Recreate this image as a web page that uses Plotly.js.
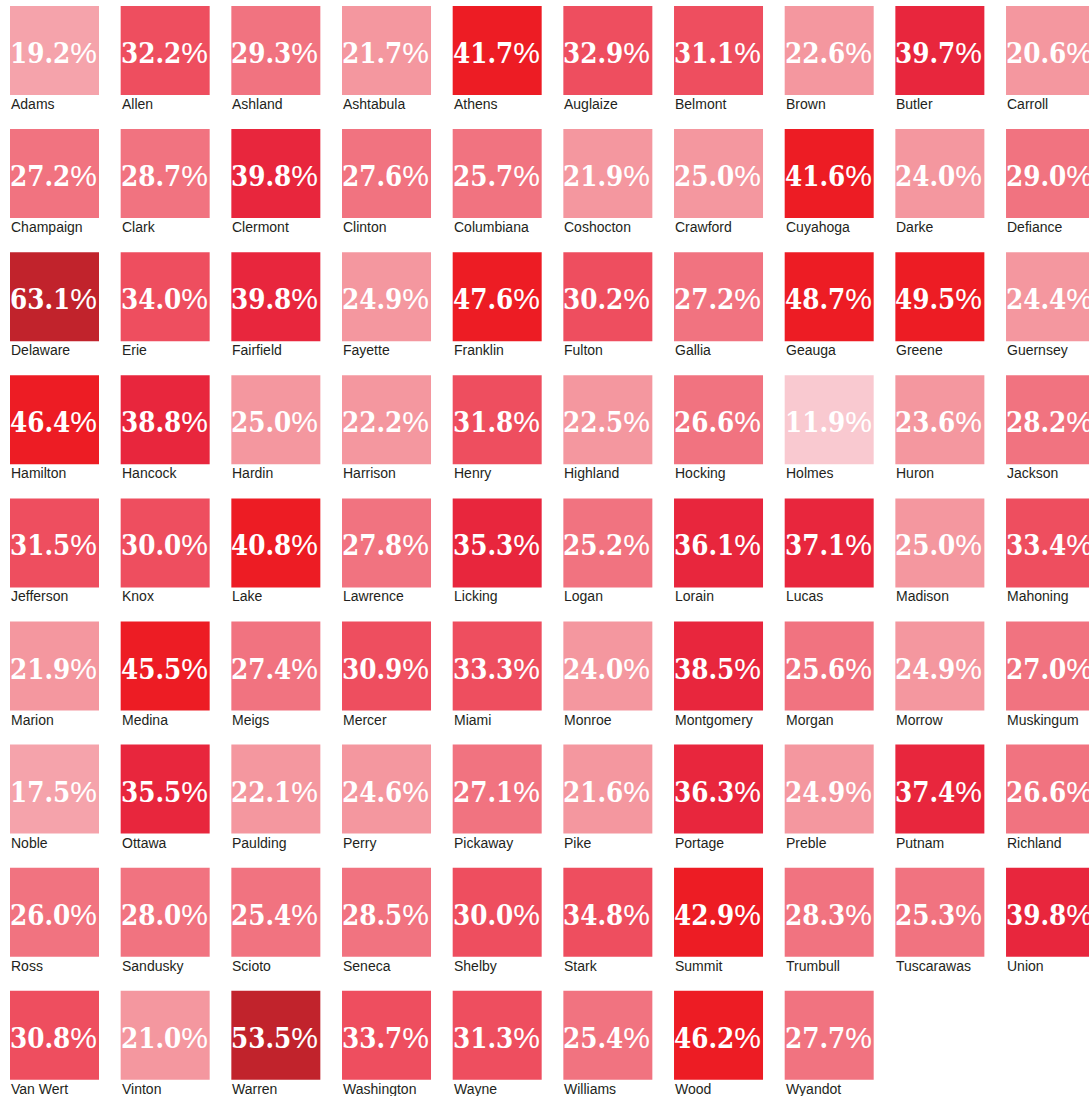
<!DOCTYPE html>
<html><head><meta charset="utf-8">
<script src="https://cdn.plot.ly/plotly-3.0.1.min.js"></script>
<style>html,body{margin:0;padding:0;background:#fff;overflow:hidden}</style>
</head><body>
<div id="chart" style="width:1089px;height:1096px"></div>
<script>
const counties = [
 "Adams","Allen","Ashland","Ashtabula","Athens","Auglaize","Belmont","Brown","Butler","Carroll",
 "Champaign","Clark","Clermont","Clinton","Columbiana","Coshocton","Crawford","Cuyahoga","Darke","Defiance",
 "Delaware","Erie","Fairfield","Fayette","Franklin","Fulton","Gallia","Geauga","Greene","Guernsey",
 "Hamilton","Hancock","Hardin","Harrison","Henry","Highland","Hocking","Holmes","Huron","Jackson",
 "Jefferson","Knox","Lake","Lawrence","Licking","Logan","Lorain","Lucas","Madison","Mahoning",
 "Marion","Medina","Meigs","Mercer","Miami","Monroe","Montgomery","Morgan","Morrow","Muskingum",
 "Noble","Ottawa","Paulding","Perry","Pickaway","Pike","Portage","Preble","Putnam","Richland",
 "Ross","Sandusky","Scioto","Seneca","Shelby","Stark","Summit","Trumbull","Tuscarawas","Union",
 "Van Wert","Vinton","Warren","Washington","Wayne","Williams","Wood","Wyandot"
];
const values = [
 19.2,32.2,29.3,21.7,41.7,32.9,31.1,22.6,39.7,20.6,
 27.2,28.7,39.8,27.6,25.7,21.9,25.0,41.6,24.0,29.0,
 63.1,34.0,39.8,24.9,47.6,30.2,27.2,48.7,49.5,24.4,
 46.4,38.8,25.0,22.2,31.8,22.5,26.6,11.9,23.6,28.2,
 31.5,30.0,40.8,27.8,35.3,25.2,36.1,37.1,25.0,33.4,
 21.9,45.5,27.4,30.9,33.3,24.0,38.5,25.6,24.9,27.0,
 17.5,35.5,22.1,24.6,27.1,21.6,36.3,24.9,37.4,26.6,
 26.0,28.0,25.4,28.5,30.0,34.8,42.9,28.3,25.3,39.8,
 30.8,21.0,53.5,33.7,31.3,25.4,46.2,27.7
];
const nCols = 10;
const binEdges = [15, 20, 25.05, 29.95, 35, 40, 50];
const binColors = ['#f9c9d0','#f5a3ab','#f4979f','#f17380','#ee4e5f','#e8263d','#ed1c24','#c1232c'];
function colorFor(v){ let i=0; while(i<binEdges.length && v>=binEdges[i]) i++; return binColors[i]; }

const cols = counties.map((_,i)=>i%nCols);
const rows = counties.map((_,i)=>Math.floor(i/nCols));

const W = 1089, H = 1096;
const pitchX = 110.67, pitchY = 123.1, tile = 89;
const x0 = 10 + tile/2, y0 = 6 + tile/2;

const trace = {
  type:'scatter', mode:'markers', x: cols, y: rows,
  marker:{symbol:'square', size: tile, color: values.map(colorFor), line:{width:0}},
  hoverinfo:'skip', cliponaxis:false
};

const numFont = "font-family:'DejaVu Serif Condensed','DejaVu Serif';font-stretch:condensed;font-weight:bold";
const pctFont = "font-family:'Liberation Sans Narrow','Liberation Sans';font-weight:normal;font-size:30px";
const annotations = [];
values.forEach((v,i)=>{
  annotations.push({
    x: cols[i], y: rows[i], xref:'x', yref:'y', showarrow:false,
    xanchor:'center', yanchor:'middle', yshift:-2, xshift:-1,
    text: '<span style="' + numFont + '">' + v.toFixed(1) + '</span><span style="' + pctFont + '">%</span>',
    font:{color:'#ffffff', size:27.5, family:'DejaVu Serif Condensed, DejaVu Serif'}
  });
  annotations.push({
    x: cols[i], y: rows[i], xref:'x', yref:'y', showarrow:false,
    xanchor:'left', yanchor:'top', xshift:-tile/2 - 1, yshift:-tile/2 + 1,
    text: counties[i],
    font:{color:'#231f20', size:14, family:'Liberation Sans, Arial, sans-serif'}
  });
});

const layout = {
  width: W, height: H,
  margin:{l:0,r:0,t:0,b:0,pad:0},
  paper_bgcolor:'#ffffff', plot_bgcolor:'#ffffff',
  showlegend:false, hovermode:false,
  xaxis:{visible:false, range:[-x0/pitchX, (W-x0)/pitchX], fixedrange:true},
  yaxis:{visible:false, range:[(H-y0)/pitchY, -y0/pitchY], fixedrange:true},
  annotations: annotations
};
Plotly.newPlot('chart',[trace],layout,{displayModeBar:false, staticPlot:true});
</script>
</body></html>
